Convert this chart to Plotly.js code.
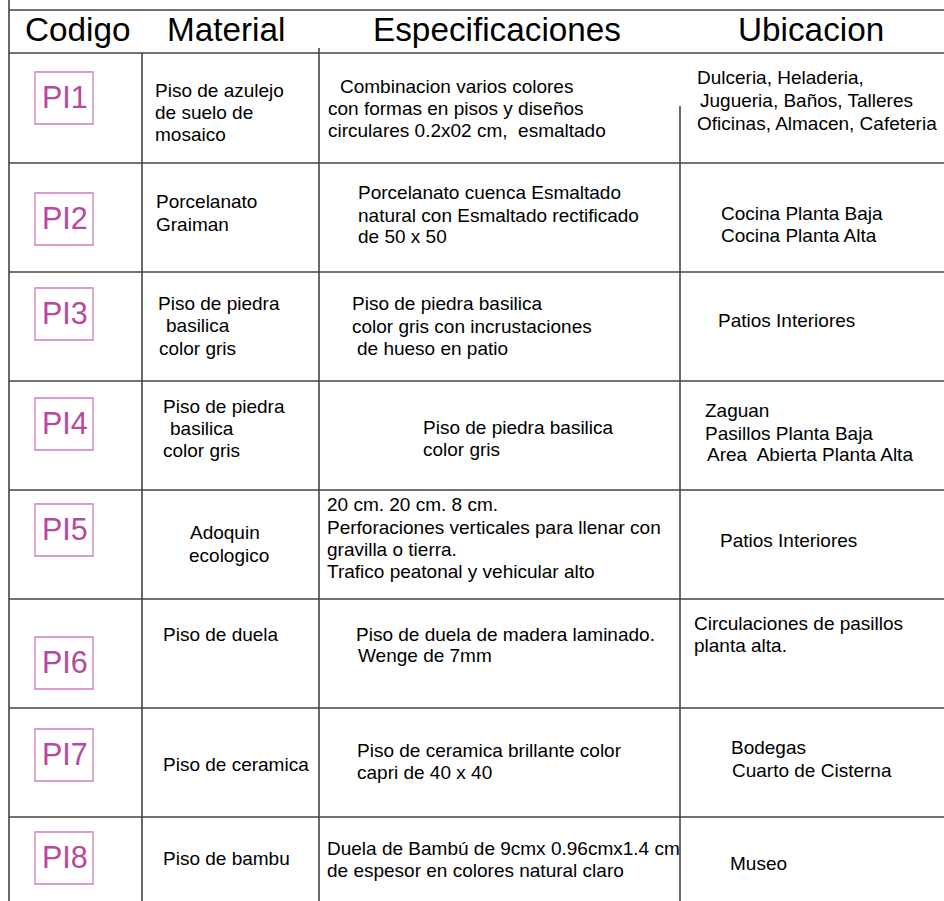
<!DOCTYPE html>
<html>
<head>
<meta charset="utf-8">
<script src="https://cdn.plot.ly/plotly-3.0.1.min.js"></script>
<style>html,body{margin:0;padding:0;background:#fff;}#chart{width:944px;height:901px;}</style>
</head>
<body>
<div id="chart"></div>
<script>
// ---------- data (text content) ----------
const headers = ["Codigo", "Material", "Especificaciones", "Ubicacion"];
const codes = ["PI1", "PI2", "PI3", "PI4", "PI5", "PI6", "PI7", "PI8"];
const materials = [
  ["Piso de azulejo", "de suelo de", "mosaico"],
  ["Porcelanato", "Graiman"],
  ["Piso de piedra", "basilica", "color gris"],
  ["Piso de piedra", "basilica", "color gris"],
  ["Adoquin", "ecologico"],
  ["Piso de duela"],
  ["Piso de ceramica"],
  ["Piso de bambu"]
];
const specs = [
  ["Combinacion varios colores", "con formas en pisos y diseños", "circulares 0.2x02 cm,  esmaltado"],
  ["Porcelanato cuenca Esmaltado", "natural con Esmaltado rectificado", "de 50 x 50"],
  ["Piso de piedra basilica", "color gris con incrustaciones", "de hueso en patio"],
  ["Piso de piedra basilica", "color gris"],
  ["20 cm. 20 cm. 8 cm.", "Perforaciones verticales para llenar con", "gravilla o tierra.", "Trafico peatonal y vehicular alto"],
  ["Piso de duela de madera laminado.", "Wenge de 7mm"],
  ["Piso de ceramica brillante color", "capri de 40 x 40"],
  ["Duela de Bambú de 9cmx 0.96cmx1.4 cm", "de espesor en colores natural claro"]
];
const locations = [
  ["Dulceria, Heladeria,", "Jugueria, Baños, Talleres", "Oficinas, Almacen, Cafeteria"],
  ["Cocina Planta Baja", "Cocina Planta Alta"],
  ["Patios Interiores"],
  ["Zaguan", "Pasillos Planta Baja", "Area  Abierta Planta Alta"],
  ["Patios Interiores"],
  ["Circulaciones de pasillos", "planta alta."],
  ["Bodegas", "Cuarto de Cisterna"],
  ["Museo"]
];

// ---------- layout geometry (pixel space of the drawing) ----------
const W = 944, H = 901;
const topLine = 10, headLine = 53;
const rowLines = [163, 272, 381, 490, 599, 708, 817];
const colLines = [ // x, start y
  [9, 0], [142, 53], [319, 48], [680, 106]
];
const headerPos = [[25, 41], [167, 41], [373, 41], [738, 41]];
const boxTops = [72, 193, 288, 398, 504, 637, 729, 832];
const boxX = [35, 93], boxH = 52;
// per-line [left x, baseline y]
const materialPos = [
  [[155, 97], [155, 119], [155, 141]],
  [[156, 208], [156, 231]],
  [[158, 310], [166, 332], [159, 355]],
  [[163, 413], [170, 435], [163, 457]],
  [[190, 539], [189, 562]],
  [[163, 641]],
  [[163, 771]],
  [[163, 865]]
];
const specPos = [
  [[340, 93], [328, 115], [328, 137]],
  [[358, 199], [358, 222], [358, 243]],
  [[352, 310], [352, 333], [357, 355]],
  [[423, 434], [423, 456]],
  [[327, 511], [327, 534], [327, 556], [327, 578]],
  [[356, 641], [358, 662]],
  [[357, 757], [357, 779]],
  [[327, 855], [327, 877]]
];
const locPos = [
  [[697, 84], [700, 107], [697, 130]],
  [[721, 220], [721, 242]],
  [[718, 327]],
  [[705, 417], [705, 440], [707, 461]],
  [[720, 547]],
  [[694, 630], [694, 652]],
  [[731, 754], [732, 777]],
  [[730, 870]]
];

// ---------- styles ----------
const FONT = "Liberation Sans, Arial, Helvetica, sans-serif";
const lineColor = "#444444", lineW = 1.6;
const pinkBorder = "#d07cc0", pinkText = "#b8479e";
const bodySize = 19, headSize = 33.3, codeSize = 30.5;

// ---------- build shapes ----------
const shapes = [];
function seg(x0, y0, x1, y1) {
  shapes.push({type: "line", xref: "x", yref: "y", x0, y0, x1, y1,
    line: {color: lineColor, width: lineW}, layer: "above"});
}
seg(colLines[0][0], topLine, W, topLine);
seg(colLines[0][0], headLine, W, headLine);
rowLines.forEach(y => seg(colLines[0][0], y, W, y));
colLines.forEach(c => seg(c[0], c[1], c[0], H));

codes.forEach((c, i) => {
  shapes.push({type: "rect", xref: "x", yref: "y",
    x0: boxX[0], x1: boxX[1], y0: boxTops[i], y1: boxTops[i] + boxH,
    line: {color: pinkBorder, width: 1.3}, fillcolor: "rgba(0,0,0,0)"});
});

// ---------- build annotations ----------
const annotations = [];
function txt(s, x, baseline, size, color, anchor) {
  annotations.push({
    text: s, x: x, y: baseline - 0.3465 * size, xref: "x", yref: "y",
    xanchor: anchor || "left", yanchor: "middle", showarrow: false,
    borderpad: 0, borderwidth: 0,
    font: {family: FONT, size: size, color: color}
  });
}
headers.forEach((h, i) => txt(h, headerPos[i][0], headerPos[i][1], headSize, "#000"));
codes.forEach((c, i) => {
  const cy = boxTops[i] + boxH / 2 + 0.3465 * codeSize - 1;
  txt(c, (boxX[0] + boxX[1]) / 2 + 1, cy, codeSize, pinkText, "center");
});
function cells(lines, pos) {
  lines.forEach((arr, r) => arr.forEach((s, k) =>
    txt(s, pos[r][k][0], pos[r][k][1], bodySize, "#000")));
}
cells(materials, materialPos);
cells(specs, specPos);
cells(locations, locPos);

const layout = {
  width: W, height: H,
  margin: {l: 0, r: 0, t: 0, b: 0, pad: 0},
  paper_bgcolor: "#ffffff", plot_bgcolor: "#ffffff",
  showlegend: false,
  xaxis: {range: [0, W], visible: false, fixedrange: true},
  yaxis: {range: [H, 0], visible: false, fixedrange: true},
  shapes: shapes,
  annotations: annotations,
  font: {family: FONT}
};
Plotly.newPlot("chart", [{x: [], y: [], type: "scatter", mode: "markers", hoverinfo: "skip"}], layout,
  {staticPlot: true, displayModeBar: false});
</script>
</body>
</html>
